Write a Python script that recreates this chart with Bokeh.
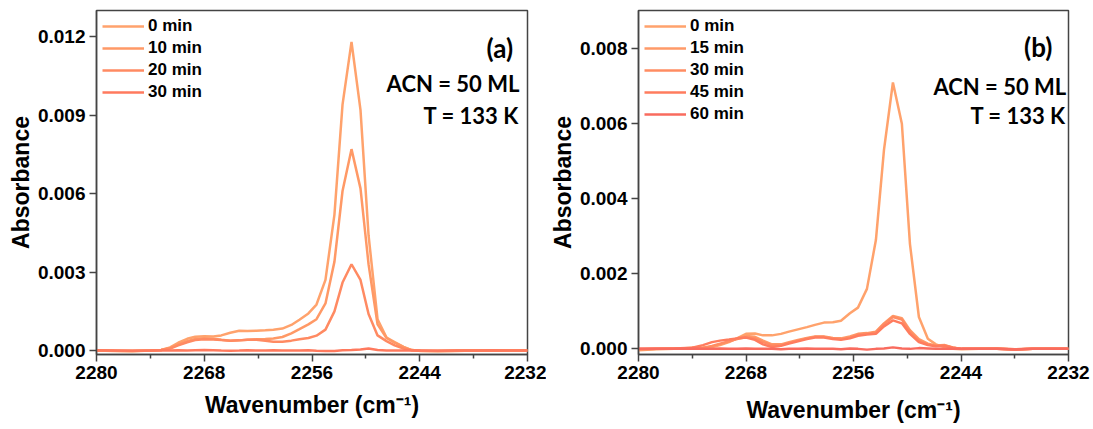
from bokeh.plotting import figure
from bokeh.layouts import row
from bokeh.models import Range1d, FixedTicker, Label, NumeralTickFormatter
from bokeh.embed import file_html
from bokeh.resources import INLINE

# Shared wavenumber axis (cm-1), descending
WAVENUMBER = [2280.0, 2278.0, 2276.0, 2274.0, 2272.8, 2271.8, 2270.9, 2269.9, 2269.0, 2268.0,
              2267.0, 2266.1, 2265.1, 2264.1, 2263.2, 2262.2, 2261.2, 2260.3, 2259.3, 2258.3,
              2257.4, 2256.4, 2255.5, 2254.5, 2253.5, 2252.6, 2251.6, 2250.6, 2249.7, 2248.7,
              2247.7, 2246.8, 2245.8, 2244.9, 2243.9, 2242.0, 2240.0, 2238.0, 2236.0, 2234.0,
              2232.0]

# Panel (a): absorbance vs time
A_LABELS = ["0 min", "10 min", "20 min", "30 min"]
A_0 = [0.0, -0.00002, -0.00003, 0.0, 0.00002, 0.00012, 0.0003, 0.00045, 0.00053, 0.00055,
       0.00054, 0.00058, 0.00068, 0.00076, 0.00075, 0.00076, 0.00078, 0.0008, 0.00084, 0.00098,
       0.00118, 0.00142, 0.00176, 0.0027, 0.0052, 0.0094, 0.0118, 0.0092, 0.0044, 0.0012,
       0.0005, 0.00032, 0.00014, 0.00002, -0.00002, -0.00003, -0.00002, 0.0, -0.00001, 0.00001,
       0.0]
A_10 = [0.0, -0.00001, -0.00002, 0.0, 0.00002, 0.0001, 0.00024, 0.00036, 0.00044, 0.00047,
        0.00045, 0.00041, 0.00038, 0.00039, 0.00041, 0.00043, 0.00044, 0.00046, 0.00052, 0.00066,
        0.00082, 0.001, 0.0012, 0.0018, 0.0034, 0.0061, 0.0077, 0.0062, 0.0033, 0.001,
        0.00048, 0.0003, 0.00013, 0.00002, -0.00001, -0.00002, -0.00001, 0.0, 0.0, 0.00001,
        0.0]
A_20 = [0.0, -0.00001, -0.00001, 0.0, 0.00002, 0.00008, 0.0002, 0.00032, 0.0004, 0.00043,
        0.00042, 0.0004, 0.00038, 0.00039, 0.00041, 0.00041, 0.00038, 0.00034, 0.00034, 0.00038,
        0.00043, 0.00048, 0.00057, 0.0008, 0.0015, 0.0026, 0.0033, 0.0027, 0.0014, 0.00058,
        0.00036, 0.0002, 0.00008, 0.00001, -0.00001, -0.00001, 0.0, 0.0, -0.00001, 0.0,
        0.0]
A_30 = [0.00001, 0.0, -0.00001, 0.0, 0.0, 0.0, 0.00001, 0.0, 0.00001, 0.00002,
        0.00001, 0.0, -0.00001, 0.0, 0.00001, 0.0, 0.0, 0.00001, 0.0, 0.0,
        0.0, 0.00001, -0.00001, -0.00002, -0.00002, 0.00001, 0.00002, 0.00004, 0.00008, 0.00002,
        0.0, 0.0, 0.0, 0.0, 0.0, -0.00001, 0.0, 0.0, 0.00001, 0.0,
        0.0]

# Panel (b): absorbance vs time
B_LABELS = ["0 min", "15 min", "30 min", "45 min", "60 min"]
B_0 = [-0.00004, -0.00001, 0.0, 0.00003, 0.00002, 0.00005, 0.0001, 0.00018, 0.00028, 0.0004,
       0.00041, 0.00036, 0.00036, 0.0004, 0.00046, 0.00052, 0.00058, 0.00064, 0.0007, 0.00071,
       0.00075, 0.00095, 0.0011, 0.0016, 0.0029, 0.0053, 0.0071, 0.006, 0.0028, 0.00085,
       0.00027, 0.00012, 0.00004, 0.0, -0.00001, 0.0, 0.0, -0.00002, 0.0, 0.0,
       0.0]
B_15 = [-0.00002, 0.0, 0.0, 0.00002, 0.00003, 0.00006, 0.00012, 0.0002, 0.00028, 0.00034,
        0.00032, 0.00022, 0.00012, 0.00012, 0.00018, 0.00024, 0.00029, 0.00033, 0.00033, 0.00029,
        0.00028, 0.00033, 0.0004, 0.00042, 0.00046, 0.00068, 0.00088, 0.00082, 0.0005, 0.00026,
        0.00014, 0.00009, 0.0001, 0.00004, 0.0, 0.0, 0.0, -0.00002, 0.0, 0.00001,
        0.0]
B_30 = [-0.00001, 0.0, 0.00001, 0.00002, 0.00003, 0.00008, 0.00014, 0.0002, 0.00026, 0.00031,
        0.00028, 0.00018, 0.0001, 0.0001, 0.00016, 0.00022, 0.00028, 0.00032, 0.00032, 0.00028,
        0.00026, 0.0003, 0.00038, 0.0004, 0.00044, 0.00066, 0.00085, 0.00078, 0.00046, 0.00022,
        0.00012, 0.00008, 0.00009, 0.00003, 0.0, 0.0, 0.00001, -0.00001, 0.0, 0.0,
        0.0]
B_45 = [0.0, 0.0, 0.00001, 0.00003, 0.0001, 0.00018, 0.00022, 0.00025, 0.00028, 0.0003,
        0.00024, 0.00012, 0.00005, 0.00008, 0.00014, 0.0002, 0.00026, 0.0003, 0.0003, 0.00026,
        0.00024, 0.00028, 0.00035, 0.00038, 0.0004, 0.0006, 0.00076, 0.00068, 0.0004, 0.00018,
        0.0001, 0.00007, 0.00008, 0.00003, 0.0, 0.0, 0.0, -0.00001, 0.0, 0.0,
        0.0]
B_60 = [0.0, 0.0, 0.0, 0.00001, 0.0, 0.0, 0.00001, 0.0, 0.0, 0.00001,
        0.0, 0.0, 0.0, -0.00001, 0.0, 0.0, 0.00001, 0.0, 0.0, 0.0,
        -0.00001, 0.00001, 0.0, -0.00002, 0.0, 0.00001, 0.00004, 0.00001, 0.0, 0.00002,
        0.00001, 0.0, 0.0, 0.0, 0.0, 0.0, 0.0, -0.00002, 0.0, 0.0,
        0.0]

X_TICKS = [2280, 2268, 2256, 2244, 2232]
X_MINOR = [2274, 2262, 2250, 2238]
A_YTICKS = [0.0, 0.003, 0.006, 0.009, 0.012]
B_YTICKS = [0.0, 0.002, 0.004, 0.006, 0.008]

A_COLORS = ["#FFA26C", "#FF9966", "#FF8A62", "#FF7A5E"]
B_COLORS = ["#FFA26C", "#FF9A68", "#FF8C62", "#FF7C5E", "#F96B5E"]

AXIS_FONT = "Liberation Sans"
NOTE_FONT = "Lato"
AXIS_COLOR = "#444444"


def make_panel(series, labels, colors, y_range, y_ticks, tag, tag_pos, notes_pos,
               left, right, frame_w, xlabel_standoff):
    p = figure(frame_width=frame_w, frame_height=344,
               x_range=Range1d(2280, 2232), y_range=Range1d(*y_range),
               output_backend="svg", toolbar_location=None,
               min_border_left=left, min_border_right=right,
               min_border_top=10, min_border_bottom=75)
    p.grid.visible = False
    p.outline_line_color = AXIS_COLOR
    p.outline_line_width = 1.5
    p.background_fill_color = "white"
    p.border_fill_color = "white"

    for ys, lab, col in zip(series, labels, colors):
        p.line(WAVENUMBER, ys, line_color=col, line_width=2.5, legend_label=lab)

    p.xaxis.ticker = FixedTicker(ticks=X_TICKS, minor_ticks=X_MINOR)
    p.yaxis.ticker = FixedTicker(ticks=y_ticks, minor_ticks=[])
    p.yaxis.formatter = NumeralTickFormatter(format="0.000")
    p.xaxis.axis_label = "Wavenumber (cm\u207b\u00b9)"
    p.yaxis.axis_label = "Absorbance"
    p.xaxis.axis_label_standoff = xlabel_standoff
    p.yaxis.axis_label_standoff = 1

    for ax in (p.xaxis, p.yaxis):
        ax.axis_line_color = AXIS_COLOR
        ax.axis_line_width = 1.5
        ax.major_tick_line_color = AXIS_COLOR
        ax.major_tick_line_width = 1.5
        ax.minor_tick_line_color = AXIS_COLOR
        ax.minor_tick_line_width = 1.5
        ax.major_tick_in = 0
        ax.major_tick_out = 7
        ax.minor_tick_in = 0
        ax.minor_tick_out = 4
        ax.major_label_text_font = AXIS_FONT
        ax.major_label_text_font_style = "bold"
        ax.major_label_text_font_size = "19px"
        ax.major_label_text_color = "black"
        ax.major_label_standoff = 4
        ax.axis_label_text_font = AXIS_FONT
        ax.axis_label_text_font_style = "bold"
        ax.axis_label_text_font_size = "23px"
        ax.axis_label_text_color = "black"

    leg = p.legend[0]
    leg.location = "top_left"
    leg.margin = 6
    leg.padding = 0
    leg.spacing = 2
    leg.glyph_width = 42
    leg.glyph_height = 18
    leg.label_height = 18
    leg.label_standoff = 4
    leg.label_text_font = AXIS_FONT
    leg.label_text_font_style = "bold"
    leg.label_text_font_size = "17px"
    leg.label_text_color = "black"
    leg.border_line_color = None
    leg.background_fill_alpha = 0

    p.add_layout(Label(x=tag_pos[0], y=tag_pos[1], text=tag, text_align="right",
                       text_baseline="alphabetic", text_font=NOTE_FONT,
                       text_font_style="bold", text_font_size="26px", text_color="black"))
    for (nx, ny), txt in zip(notes_pos, ["ACN = 50 ML", "T = 133 K"]):
        p.add_layout(Label(x=nx, y=ny, text=txt, text_align="right",
                           text_baseline="alphabetic", text_font=NOTE_FONT,
                           text_font_style="bold", text_font_size="22px", text_color="black"))
    return p


pa = make_panel([A_0, A_10, A_20, A_30], A_LABELS, A_COLORS,
                (-0.00015, 0.013), A_YTICKS, "(a)", (2233.6, 0.01158),
                [(2232.9, 0.01022), (2232.95, 0.00899)],
                left=96, right=19, frame_w=431, xlabel_standoff=10)
pb = make_panel([B_0, B_15, B_30, B_45, B_60], B_LABELS, B_COLORS,
                (-0.00015, 0.00902), B_YTICKS, "(b)", (2233.8, 0.00805),
                [(2232.25, 0.00699), (2232.3, 0.00621)],
                left=91, right=26, frame_w=430, xlabel_standoff=15)

layout = row(pa, pb)
open("out.html", "w").write(file_html(layout, INLINE))
